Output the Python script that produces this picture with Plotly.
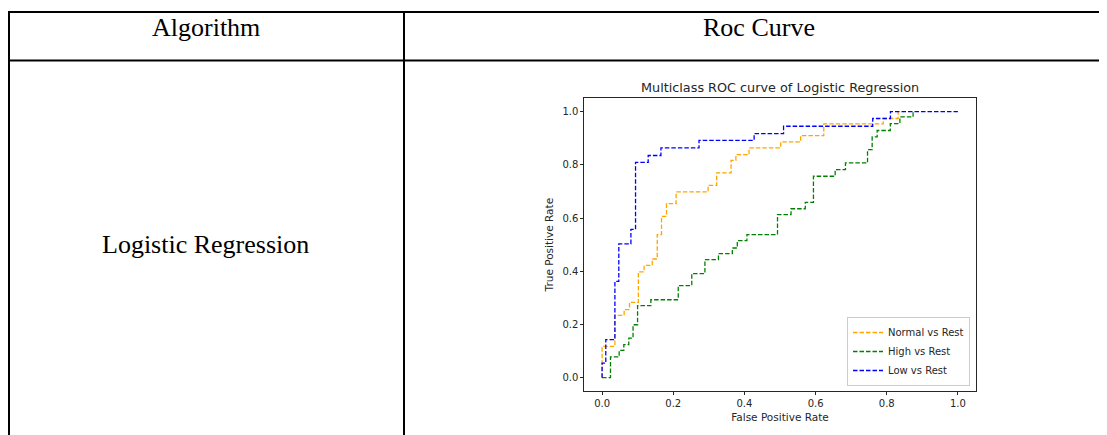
import plotly.graph_objects as go

# ---- table text ----
header_algorithm = "Algorithm"
header_roc = "Roc Curve"
row_algorithm = "Logistic Regression"

chart_title = "Multiclass ROC curve of Logistic Regression"

# ---- ROC data ----
normal_fpr = [0, 0, 0.036, 0.036, 0.062, 0.062, 0.077, 0.077, 0.102, 0.102, 0.118, 0.118,
              0.141, 0.141, 0.155, 0.155, 0.167, 0.167, 0.181, 0.181, 0.208, 0.208,
              0.298, 0.298, 0.322, 0.322, 0.3625, 0.3625, 0.376, 0.376, 0.413, 0.413,
              0.502, 0.502, 0.558, 0.558, 0.623, 0.623, 0.79, 0.79, 0.832, 0.832]
normal_tpr = [0, 0.118, 0.118, 0.234, 0.234, 0.256, 0.256, 0.283, 0.283, 0.398, 0.398, 0.422,
              0.422, 0.446, 0.446, 0.538, 0.538, 0.606, 0.606, 0.654, 0.654, 0.698,
              0.698, 0.723, 0.723, 0.77, 0.77, 0.817, 0.817, 0.838, 0.838, 0.8635,
              0.8635, 0.886, 0.886, 0.91, 0.91, 0.954, 0.954, 0.974, 0.974, 1.0]

high_fpr = [0, 0.0236, 0.0236, 0.048, 0.048, 0.061, 0.061, 0.075, 0.075, 0.087, 0.087,
            0.0997, 0.0997, 0.137, 0.137, 0.214, 0.214, 0.252, 0.252, 0.289, 0.289,
            0.327, 0.327, 0.366, 0.366, 0.380, 0.380, 0.407, 0.407, 0.493, 0.493,
            0.531, 0.531, 0.571, 0.571, 0.594, 0.594, 0.655, 0.655, 0.684, 0.684,
            0.746, 0.746, 0.759, 0.759, 0.773, 0.773, 0.810, 0.810, 0.837, 0.837,
            0.874, 0.874]
high_tpr = [0, 0, 0.078, 0.078, 0.103, 0.103, 0.124, 0.124, 0.149, 0.149, 0.199,
            0.199, 0.271, 0.271, 0.293, 0.293, 0.346, 0.346, 0.391, 0.391, 0.444,
            0.444, 0.466, 0.466, 0.4875, 0.4875, 0.515, 0.515, 0.5376, 0.5376, 0.613,
            0.613, 0.635, 0.635, 0.659, 0.659, 0.757, 0.757, 0.782, 0.782, 0.807,
            0.807, 0.857, 0.857, 0.905, 0.905, 0.929, 0.929, 0.955, 0.955, 0.98,
            0.98, 1.0]

low_fpr = [0, 0, 0.0104, 0.0104, 0.036, 0.036, 0.047, 0.047, 0.081, 0.081, 0.094, 0.094,
           0.1296, 0.1296, 0.1654, 0.1654, 0.2724, 0.2724, 0.4273, 0.4273, 0.51, 0.51,
           0.7606, 0.7606, 0.8104, 0.8104, 1.0]
low_tpr = [0, 0.055, 0.055, 0.143, 0.143, 0.362, 0.362, 0.5026, 0.5026, 0.5576, 0.5576, 0.809,
           0.809, 0.835, 0.835, 0.8634, 0.8634, 0.892, 0.892, 0.917, 0.917, 0.945,
           0.945, 0.974, 0.974, 1.0, 1.0]

series_names = ["Normal vs Rest", "High vs Rest", "Low vs Rest"]
series_colors = ["orange", "green", "blue"]
tick_vals = [0.0, 0.2, 0.4, 0.6, 0.8, 1.0]
tick_text = ["0.0", "0.2", "0.4", "0.6", "0.8", "1.0"]

W, H = 1107, 435
OFF = 8  # page body margin in the browser


def px_x(p):
    return (p - OFF) / W


def px_y(p):
    return 1 - (p - OFF) / H


fig = go.Figure()
for fpr, tpr, name, color in zip([normal_fpr, high_fpr, low_fpr],
                                 [normal_tpr, high_tpr, low_tpr],
                                 series_names, series_colors):
    fig.add_trace(go.Scatter(x=fpr, y=tpr, mode="lines", name=name,
                             line=dict(color=color, width=1.3, dash="4.5px,2px")))

tick_font = dict(family="DejaVu Sans", size=10, color="#262626")
label_font = dict(family="DejaVu Sans", size=10.5, color="#262626")
axis_common = dict(showline=True, mirror=True, linecolor="#262626", linewidth=1,
                   ticks="outside", ticklen=3, tickcolor="#262626", tickwidth=1,
                   showgrid=False, zeroline=False, tickvals=tick_vals, ticktext=tick_text,
                   tickfont=tick_font, automargin=False, fixedrange=True)

fig.update_layout(
    width=W, height=H,
    margin=dict(l=0, r=0, t=0, b=0),
    paper_bgcolor="white", plot_bgcolor="white",
    xaxis=dict(domain=[px_x(584.3), px_x(975.7)], range=[-0.05, 1.05],
               title=dict(text="False Positive Rate", font=label_font, standoff=5),
               **axis_common),
    yaxis=dict(domain=[px_y(391), px_y(98.3)], range=[-0.05, 1.05],
               title=dict(text="True Positive Rate", font=label_font, standoff=6),
               **axis_common),
    legend=dict(x=px_x(970), y=px_y(386), xanchor="right", yanchor="bottom",
                bgcolor="white", bordercolor="#cccccc", borderwidth=1,
                font=dict(family="DejaVu Sans", size=10, color="#262626"),
                itemwidth=30, tracegroupgap=0),
    showlegend=True,
)

# chart title
fig.add_annotation(text=chart_title, xref="paper", yref="paper",
                   x=px_x(780), y=px_y(87.3), xanchor="center", yanchor="middle",
                   showarrow=False, font=dict(family="DejaVu Sans", size=12.8, color="#262626"))

# table text
serif = dict(family="Liberation Serif", size=26, color="black")
fig.add_annotation(text=header_algorithm, xref="paper", yref="paper",
                   x=px_x(206), y=px_y(28), xanchor="center", yanchor="middle",
                   showarrow=False, font=serif)
fig.add_annotation(text=header_roc, xref="paper", yref="paper",
                   x=px_x(759), y=px_y(28), xanchor="center", yanchor="middle",
                   showarrow=False, font=serif)
fig.add_annotation(text=row_algorithm, xref="paper", yref="paper",
                   x=px_x(205.5), y=px_y(244), xanchor="center", yanchor="middle",
                   showarrow=False, font=serif)

# table borders
line_style = dict(color="black", width=2)
for y in [12, 60.5]:
    fig.add_shape(type="line", xref="paper", yref="paper",
                  x0=px_x(8), x1=1.02, y0=px_y(y), y1=px_y(y), line=line_style)
for x in [9, 404]:
    fig.add_shape(type="line", xref="paper", yref="paper",
                  x0=px_x(x), x1=px_x(x), y0=px_y(11), y1=-0.02, line=line_style)

fig.write_html("out.html")
